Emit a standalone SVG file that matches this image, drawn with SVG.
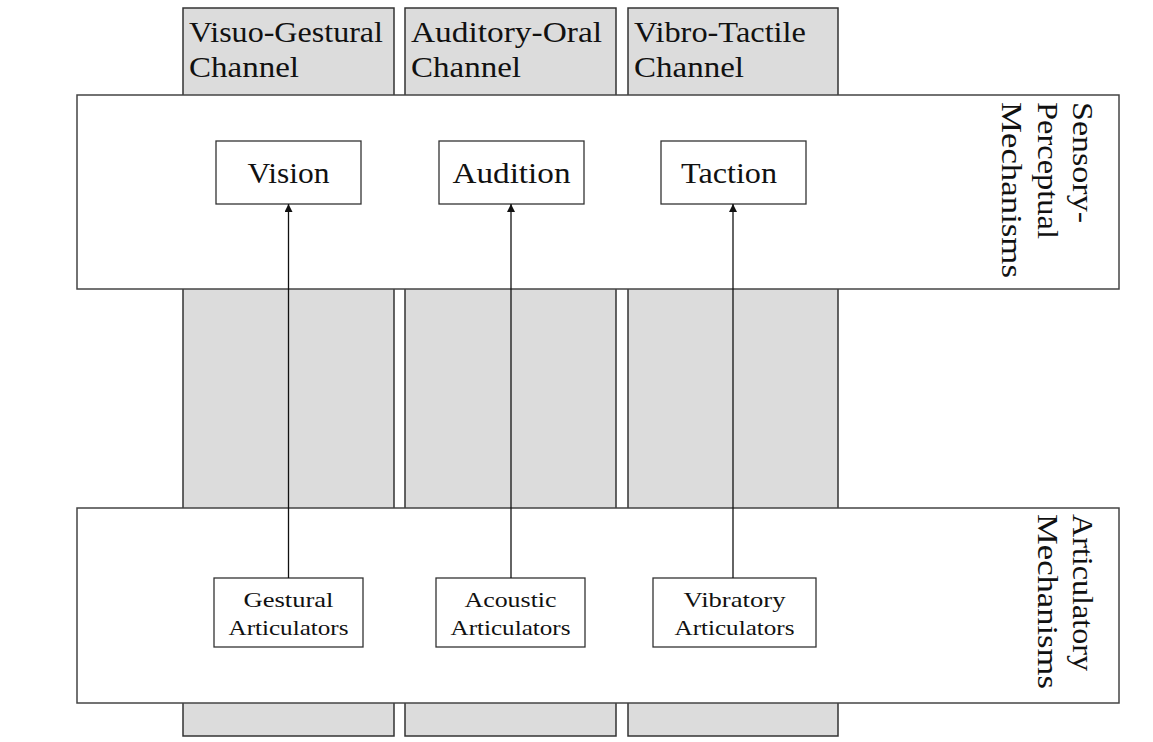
<svg xmlns="http://www.w3.org/2000/svg" width="1153" height="742" viewBox="0 0 1153 742">
<defs>
<style>
.col{fill:#dcdcdc;stroke:#333;stroke-width:1.5}
.band{fill:#fff;stroke:#444;stroke-width:1.5}
.box{fill:#fff;stroke:#333;stroke-width:1.3}
.t{font-family:"Liberation Serif","DejaVu Serif",serif;fill:#111}
.big{font-size:29px}
.mid{font-size:30px}
.sm{font-size:22px}
.conn{stroke:#111;stroke-width:1.3;fill:none}
</style>
<marker id="arr" viewBox="0 0 10 10" refX="10" refY="5" markerWidth="8" markerHeight="8" markerUnits="userSpaceOnUse" orient="auto">
<path d="M0,0 L10,5 L0,10 z" fill="#111"/>
</marker>
</defs>
<rect width="1153" height="742" fill="#fff"/>
<g id="channels">
<g id="ch-visuo">
<rect class="col" x="183" y="8" width="211" height="728"/>
<text class="t big" x="189" y="42" textLength="194" lengthAdjust="spacingAndGlyphs">Visuo-Gestural</text>
<text class="t big" x="189" y="77" textLength="110" lengthAdjust="spacingAndGlyphs">Channel</text>
</g>
<g id="ch-audit">
<rect class="col" x="405" y="8" width="211" height="728"/>
<text class="t big" x="411" y="42" textLength="191" lengthAdjust="spacingAndGlyphs">Auditory-Oral</text>
<text class="t big" x="411" y="77" textLength="110" lengthAdjust="spacingAndGlyphs">Channel</text>
</g>
<g id="ch-vibro">
<rect class="col" x="628" y="8" width="210" height="728"/>
<text class="t big" x="634" y="42" textLength="172" lengthAdjust="spacingAndGlyphs">Vibro-Tactile</text>
<text class="t big" x="634" y="77" textLength="110" lengthAdjust="spacingAndGlyphs">Channel</text>
</g>
</g>
<g id="sensory">
<rect class="band" x="77" y="95" width="1042" height="194"/>
<text class="t big" transform="translate(1073,102) rotate(90)" textLength="121" lengthAdjust="spacingAndGlyphs">Sensory-</text>
<text class="t big" transform="translate(1038,102) rotate(90)" textLength="137" lengthAdjust="spacingAndGlyphs">Perceptual</text>
<text class="t big" transform="translate(1002,102) rotate(90)" textLength="176" lengthAdjust="spacingAndGlyphs">Mechanisms</text>
</g>
<g id="articulatory">
<rect class="band" x="77" y="508" width="1042" height="195"/>
<text class="t big" transform="translate(1073,514) rotate(90)" textLength="157" lengthAdjust="spacingAndGlyphs">Articulatory</text>
<text class="t big" transform="translate(1038,514) rotate(90)" textLength="175" lengthAdjust="spacingAndGlyphs">Mechanisms</text>
</g>
<g id="vision">
<rect class="box" x="216" y="141" width="145" height="63"/>
<text class="t mid" x="288.5" y="183" text-anchor="middle" textLength="82" lengthAdjust="spacingAndGlyphs">Vision</text>
</g>
<g id="audition">
<rect class="box" x="439" y="141" width="145" height="63"/>
<text class="t mid" x="511.5" y="183" text-anchor="middle" textLength="118" lengthAdjust="spacingAndGlyphs">Audition</text>
</g>
<g id="taction">
<rect class="box" x="661" y="141" width="145" height="63"/>
<text class="t mid" x="729" y="183" text-anchor="middle" textLength="96" lengthAdjust="spacingAndGlyphs">Taction</text>
</g>
<g id="gestural">
<rect class="box" x="214" y="578" width="149" height="69"/>
<text class="t sm" x="288.5" y="607" text-anchor="middle" textLength="90" lengthAdjust="spacingAndGlyphs">Gestural</text>
<text class="t sm" x="288.5" y="635" text-anchor="middle" textLength="120" lengthAdjust="spacingAndGlyphs">Articulators</text>
</g>
<g id="acoustic">
<rect class="box" x="436" y="578" width="149" height="69"/>
<text class="t sm" x="510.5" y="607" text-anchor="middle" textLength="92" lengthAdjust="spacingAndGlyphs">Acoustic</text>
<text class="t sm" x="510.5" y="635" text-anchor="middle" textLength="120" lengthAdjust="spacingAndGlyphs">Articulators</text>
</g>
<g id="vibratory">
<rect class="box" x="653" y="578" width="163" height="69"/>
<text class="t sm" x="734.5" y="607" text-anchor="middle" textLength="102" lengthAdjust="spacingAndGlyphs">Vibratory</text>
<text class="t sm" x="734.5" y="635" text-anchor="middle" textLength="120" lengthAdjust="spacingAndGlyphs">Articulators</text>
</g>
<g id="connectors">
<line class="conn" x1="288.5" y1="578" x2="288.5" y2="204" marker-end="url(#arr)"/>
<line class="conn" x1="511" y1="578" x2="511" y2="204" marker-end="url(#arr)"/>
<line class="conn" x1="733" y1="578" x2="733" y2="204" marker-end="url(#arr)"/>
</g>
</svg>
